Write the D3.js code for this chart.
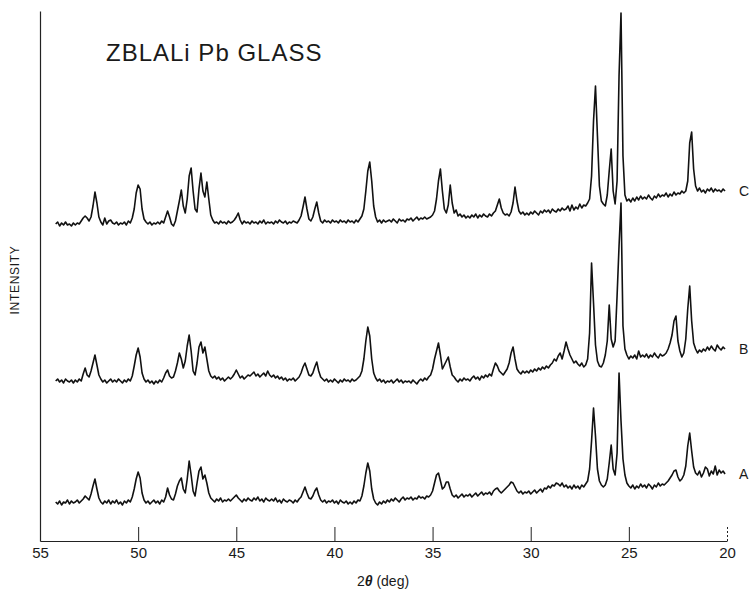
<!DOCTYPE html>
<html>
<head>
<meta charset="utf-8">
<script src="https://cdn.jsdelivr.net/npm/d3@7"></script>
<style>
  html, body { margin: 0; padding: 0; background: #fff; }
  svg { display: block; }
  text { font-family: "Liberation Sans", Arial, sans-serif; fill: #1a1a1a; }
</style>
</head>
<body>
<svg id="chart" width="750" height="591"></svg>
<script>
// ---- data ----
const title = "ZBLALi Pb GLASS";
const xLabel = "(deg)";
const yLabel = "INTENSITY";
const xTickValues = [55, 50, 45, 40, 35, 30, 25, 20];
const seriesNames = ["A", "B", "C"];
const seriesOffsets = [0, 120, 280];          // vertical offset (arb. intensity units)
// 2θ scan: 54.2° down to 20.1° in 0.1° steps
const twoTheta = d3.range(542, 200, -1).map(d => d / 10);

const intensityA = [
  39,37,40,36,39,38,41,37,40,38,
  39,41,38,40,42,45,43,41,47,55,
  62,52,43,39,37,40,38,41,37,40,
  38,41,37,39,36,40,38,41,39,44,
  52,62,69,63,48,41,38,40,37,39,
  41,38,40,37,41,39,44,53,46,42,
  41,47,55,60,63,52,48,62,80,66,
  50,45,58,70,74,62,66,58,48,43,
  41,39,42,40,43,39,41,40,42,40,
  42,44,46,43,41,39,42,40,43,41,
  40,43,41,44,40,42,39,43,41,40,
  42,40,43,39,41,38,42,40,39,41,
  40,38,41,39,42,44,49,54,48,43,
  42,45,50,53,46,41,39,41,38,40,
  39,41,38,40,37,41,39,38,40,37,
  39,37,40,38,41,40,45,55,68,78,
  70,52,42,38,36,39,37,40,38,41,
  39,42,40,43,41,39,42,44,41,43,
  42,44,41,43,42,45,43,44,42,45,
  44,46,50,58,66,68,60,52,54,59,
  59,52,46,44,46,43,45,47,44,46,
  45,47,44,46,48,45,47,49,46,48,
  47,49,46,50,52,53,50,48,50,52,
  54,56,59,58,54,50,48,50,47,49,
  48,50,47,49,51,48,50,52,49,53,
  52,55,53,56,55,58,57,55,58,54,
  56,53,55,52,56,53,55,52,56,54,
  57,60,72,100,133,105,72,60,56,54,
  56,62,78,96,72,66,88,168,120,82,
  66,58,55,53,56,52,55,53,57,54,
  56,53,57,55,52,56,54,58,55,57,
  56,58,60,63,66,70,71,64,60,62,
  66,75,95,108,90,74,68,66,70,64,
  68,74,72,65,70,67,75,66,71,68,70,67
];

const intensityB = [
  40,42,39,41,38,42,40,39,41,38,
  41,39,42,40,47,53,46,44,50,58,
  66,56,46,42,39,41,38,40,42,39,
  41,39,42,40,38,41,39,42,40,45,
  55,66,73,64,48,42,39,41,38,40,
  37,40,38,41,39,43,48,51,45,43,
  44,50,58,68,62,53,60,75,86,70,
  50,46,58,74,79,68,74,62,50,45,
  43,45,42,44,41,43,40,42,44,42,
  44,47,51,47,43,45,42,44,46,45,
  47,49,45,47,44,46,48,45,50,46,
  44,46,43,45,42,44,41,43,40,42,
  41,43,40,42,44,48,54,58,52,46,
  45,48,54,59,50,44,42,40,42,39,
  41,39,42,40,38,41,39,42,40,41,
  39,42,40,41,43,45,50,62,80,94,
  85,62,48,43,40,42,39,41,38,40,
  39,41,38,40,42,39,41,38,40,39,
  40,38,41,39,37,40,42,40,43,41,
  44,46,52,62,70,78,66,52,56,60,
  64,54,46,44,41,39,42,40,43,41,
  42,40,43,45,42,44,41,45,43,46,
  44,47,45,52,58,55,50,48,46,49,
  52,58,68,74,62,52,49,47,50,48,
  50,48,51,49,52,50,53,51,54,52,
  55,53,56,58,62,60,65,68,62,70,
  79,72,66,62,58,60,57,55,58,54,
  56,62,88,158,118,76,60,55,54,58,
  66,80,116,82,74,80,125,175,218,95,
  72,66,62,65,63,66,62,70,64,66,
  64,67,63,66,64,68,65,63,67,65,
  66,68,72,78,86,100,105,80,70,64,
  68,82,112,135,100,78,72,68,71,69,
  72,70,74,71,75,72,70,76,73,71,74,72
];

const intensityC = [
  37,39,35,38,36,39,36,37,35,38,
  36,38,37,40,43,45,43,40,44,55,
  69,58,44,39,36,43,37,40,41,38,
  37,39,36,38,37,39,36,40,38,43,
  52,68,76,72,52,42,39,37,39,36,
  38,37,39,37,40,38,44,50,44,37,
  35,40,50,60,71,55,48,62,85,93,
  70,52,49,72,88,70,64,79,62,46,
  41,38,39,37,40,38,39,37,40,38,
  39,41,44,48,41,37,40,38,39,37,
  40,38,39,37,40,38,41,37,39,38,
  39,37,40,38,41,39,38,40,37,39,
  38,40,39,38,41,45,54,64,52,42,
  40,44,52,59,48,40,38,41,39,40,
  38,41,39,40,38,41,39,40,38,41,
  39,40,38,41,39,42,45,52,70,90,
  99,80,55,44,39,41,38,41,39,40,
  41,39,42,40,38,42,40,41,39,42,
  41,43,40,42,44,41,43,42,44,42,
  43,44,46,50,62,80,92,70,52,48,
  56,76,58,48,51,45,47,44,46,43,
  45,43,46,44,47,43,46,44,47,45,
  44,47,45,48,50,56,62,53,48,46,
  47,45,49,58,74,60,50,47,49,46,
  48,46,49,47,50,48,46,50,48,51,
  49,51,48,52,50,49,52,50,53,51,
  52,55,50,56,51,54,52,57,53,56,
  55,58,62,85,140,175,125,75,60,57,
  55,66,90,112,70,57,80,185,248,105,
  66,60,62,59,63,60,64,61,65,62,
  64,62,66,63,61,65,63,67,64,66,
  65,68,64,67,65,69,66,68,67,70,
  68,70,80,118,129,92,75,70,73,69,
  71,68,72,70,73,69,72,70,71,69,72,70
];

const seriesValues = [intensityA, intensityB, intensityC];

// ---- drawing ----
const svg = d3.select("#chart");
const x = d3.scaleLinear().domain([55, 20]).range([40, 727]);
const y = d3.scaleLinear().domain([0, 530]).range([541, 11]);

// bottom axis with inward ticks
const xAxis = d3.axisBottom(x)
  .tickValues(xTickValues)
  .tickFormat(d3.format("d"))
  .tickSizeInner(-14)
  .tickSizeOuter(0)
  .tickPadding(6);
const gx = svg.append("g").attr("transform", `translate(0,${y(0)})`).call(xAxis);
gx.select(".domain").attr("stroke", "#222").attr("stroke-width", 1.2);
gx.selectAll(".tick line").attr("stroke", "#222").attr("stroke-width", 1);
gx.selectAll(".tick").filter(d => d === 55).select("line").remove();
gx.selectAll(".tick").filter(d => d === 20).select("line").attr("stroke-dasharray", "2,2");
gx.selectAll(".tick text")
  .attr("font-size", 15)
  .attr("font-family", "Liberation Sans, Arial, sans-serif")
  .attr("fill", "#1a1a1a");

// left axis (line only)
const yAxis = d3.axisLeft(y).tickValues([]).tickSizeOuter(0);
const gy = svg.append("g").attr("transform", `translate(${x(55)},0)`).call(yAxis);
gy.select(".domain").attr("stroke", "#222").attr("stroke-width", 1.2);

// traces
const line = d3.line()
  .x((d, i) => x(twoTheta[i]))
  .y(d => d);

seriesValues.forEach((vals, k) => {
  const pts = vals.map(v => y(v + seriesOffsets[k]));
  svg.append("path")
    .attr("d", line(pts))
    .attr("fill", "none")
    .attr("stroke", "#111")
    .attr("stroke-width", 1.6)
    .attr("stroke-linejoin", "round");
  const last = vals.length - 1;
  svg.append("text")
    .attr("x", x(twoTheta[last]) + 14)
    .attr("y", y(vals[last] + seriesOffsets[k]))
    .attr("dy", "0.35em")
    .attr("font-size", 14)
    .text(seriesNames[k]);
});

// title
svg.append("text")
  .attr("x", 106)
  .attr("y", 61)
  .attr("font-size", 24)
  .attr("letter-spacing", 1)
  .text(title);

// x label
const xl = svg.append("text")
  .attr("x", 383)
  .attr("y", 586)
  .attr("text-anchor", "middle")
  .attr("font-size", 14);
xl.append("tspan").text("2");
xl.append("tspan").attr("font-style", "italic").attr("font-weight", "bold").text("θ");
xl.append("tspan").text(" " + xLabel);

// y label
svg.append("text")
  .attr("transform", "translate(19,280) rotate(-90)")
  .attr("text-anchor", "middle")
  .attr("font-size", 12)
  .attr("letter-spacing", 0.7)
  .text(yLabel);
</script>
</body>
</html>
